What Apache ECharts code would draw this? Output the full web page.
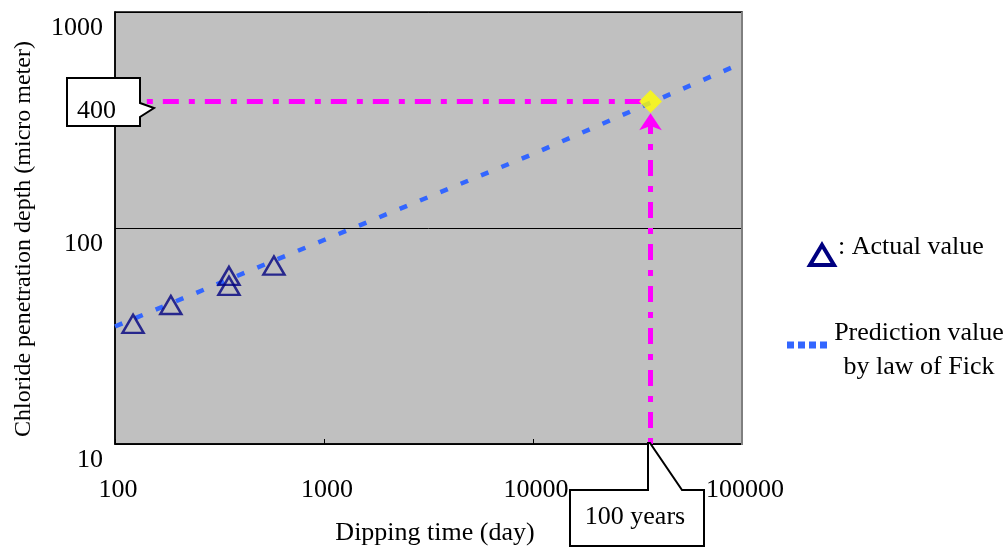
<!DOCTYPE html>
<html>
<head>
<meta charset="utf-8">
<script src="https://cdn.jsdelivr.net/npm/echarts@6/dist/echarts.min.js"></script>
<style>html,body{margin:0;padding:0;background:#fff;}#c{width:1006px;height:550px;}</style>
</head>
<body>
<div id="c"></div>
<script>
// ---- data ----
const actualDays = [122, 185, 351, 351, 576];
const actualDepth = [36, 44, 60, 54, 67];
const fickDays = [100, 1000, 10000, 36500, 100000];
const fickDepth = [35, 88, 220, 380, 580];
const targetDays = [36500];
const targetDepth = [385];
const hLineDays = [142, 36500];
const hLineDepth = [385, 385];
const vLineDays = [36500, 36500];
const vLineDepth = [10, 340];
const xTicks = [100, 1000, 10000, 100000];
const yTicks = [10, 100, 1000];
const xTitle = 'Dipping time (day)';
const yTitle = 'Chloride penetration depth (micro meter)';
const legendActual = ': Actual value';
const legendFick = ['Prediction value', 'by law of Fick'];
const calloutY = '400';
const calloutX = '100 years';

const FONT = '"Liberation Serif", "DejaVu Serif", serif';
const zip = (a, b) => a.map((v, i) => [v, b[i]]);

const chart = echarts.init(document.getElementById('c'), null, {renderer: 'canvas'});
const option = {
  animation: false,
  backgroundColor: '#ffffff',
  grid: {
    left: 115, top: 12, right: 264, bottom: 106,
    show: true, backgroundColor: '#c0c0c0', borderColor: '#000', borderWidth: 1.5
  },
  xAxis: {
    type: 'log', logBase: 10, min: 100, max: 100000,
    axisLine: {show: true, lineStyle: {color: '#000', width: 1.5}},
    axisTick: {show: true, inside: true, length: 5, lineStyle: {color: '#000'}},
    splitLine: {show: false},
    axisLabel: {
      margin: 33, color: '#000', fontSize: 26, fontFamily: FONT, padding: [0, 0, 0, 6],
      formatter: v => xTicks.includes(Math.round(v)) ? String(Math.round(v)) : ''
    }
  },
  yAxis: {
    type: 'log', logBase: 10, min: 10, max: 1000,
    axisLine: {show: true, lineStyle: {color: '#000', width: 1.5}},
    axisTick: {show: true, inside: true, length: 4, lineStyle: {color: '#000'}},
    splitLine: {show: true, lineStyle: {color: '#000', width: 1}},
    axisLabel: {
      margin: 12, color: '#000', fontSize: 26, fontFamily: FONT,
      verticalAlign: 'top', lineHeight: 32,
      formatter: v => yTicks.includes(Math.round(v)) ? String(Math.round(v)) : ''
    }
  },
  series: [
    {
      name: 'Prediction value by law of Fick', type: 'line',
      data: zip(fickDays, fickDepth), symbol: 'none', z: 3,
      lineStyle: {color: '#3366ff', width: 4.5, type: [8, 14], cap: 'butt'}
    },
    {
      name: 'Actual value', type: 'scatter',
      data: zip(actualDays, actualDepth), symbol: 'triangle', symbolSize: [21, 18], z: 4,
      itemStyle: {color: 'rgba(0,0,0,0)', borderColor: '#000080', borderWidth: 2.5}
    },
    {
      name: 'h', type: 'line', data: zip(hLineDays, hLineDepth), symbol: 'none', z: 5,
      lineStyle: {color: '#ff00ff', width: 5, type: [6, 10, 16, 10], cap: 'butt'}
    },
    {
      name: 'v', type: 'line', data: zip(vLineDays, vLineDepth), symbol: 'none', z: 5,
      lineStyle: {color: '#ff00ff', width: 5, type: [6, 10, 16, 10], cap: 'butt'},
      markLine: {
        silent: true, symbol: ['none', 'arrow'], symbolSize: [17, 17], label: {show: false},
        lineStyle: {color: '#ff00ff', width: 0.01, type: 'solid'},
        data: [[{coord: [vLineDays[0], vLineDepth[1] * 0.85]}, {coord: [vLineDays[1], vLineDepth[1]]}]]
      }
    },
    {
      name: 'target', type: 'scatter', data: zip(targetDays, targetDepth),
      symbol: 'diamond', symbolSize: [23, 23], z: 8,
      itemStyle: {color: '#ffff00'}
    }
  ],
  graphic: [
    // right border of plot area (grey)
    {type: 'line', shape: {x1: 742, y1: 12, x2: 742, y2: 445}, style: {stroke: '#7f7f7f', lineWidth: 2}, z: 10},
    // y axis title
    {type: 'text', x: 24, y: 239, rotation: Math.PI / 2,
      style: {text: yTitle, font: '24px ' + FONT, fill: '#000', textAlign: 'center', textVerticalAlign: 'middle'}},
    // x axis title
    {type: 'text', x: 435, y: 533,
      style: {text: xTitle, font: '26px ' + FONT, fill: '#000', textAlign: 'center', textVerticalAlign: 'middle'}},
    // "400" callout
    {type: 'polygon', z: 20,
      shape: {points: [[67, 78], [140, 78], [140, 103], [154, 108], [140, 117], [140, 126], [67, 126]]},
      style: {fill: '#fff', stroke: '#000', lineWidth: 2}},
    {type: 'text', x: 77, y: 111, z: 21,
      style: {text: calloutY, font: '26px ' + FONT, fill: '#000', textAlign: 'left', textVerticalAlign: 'middle'}},
    // "100 years" callout
    {type: 'polygon', z: 20,
      shape: {points: [[570, 490], [648, 490], [648, 443], [650, 443], [682, 490], [704, 490], [704, 546], [570, 546]]},
      style: {fill: '#fff', stroke: '#000', lineWidth: 2}},
    {type: 'text', x: 635, y: 517, z: 21,
      style: {text: calloutX, font: '26px ' + FONT, fill: '#000', textAlign: 'center', textVerticalAlign: 'middle'}},
    // legend: actual
    {type: 'polygon', shape: {points: [[822, 245], [834, 265], [810, 265]]},
      style: {fill: 'none', stroke: '#000080', lineWidth: 4}},
    {type: 'text', x: 838, y: 247,
      style: {text: legendActual, font: '26px ' + FONT, fill: '#000', textAlign: 'left', textVerticalAlign: 'middle'}},
    // legend: prediction
    {type: 'line', shape: {x1: 787, y1: 345, x2: 830, y2: 345},
      style: {stroke: '#3366ff', lineWidth: 7, lineDash: [7, 4]}},
    {type: 'text', x: 919, y: 333,
      style: {text: legendFick[0], font: '26px ' + FONT, fill: '#000', textAlign: 'center', textVerticalAlign: 'middle'}},
    {type: 'text', x: 919, y: 367,
      style: {text: legendFick[1], font: '26px ' + FONT, fill: '#000', textAlign: 'center', textVerticalAlign: 'middle'}}
  ]
};
chart.setOption(option);
</script>
</body>
</html>
